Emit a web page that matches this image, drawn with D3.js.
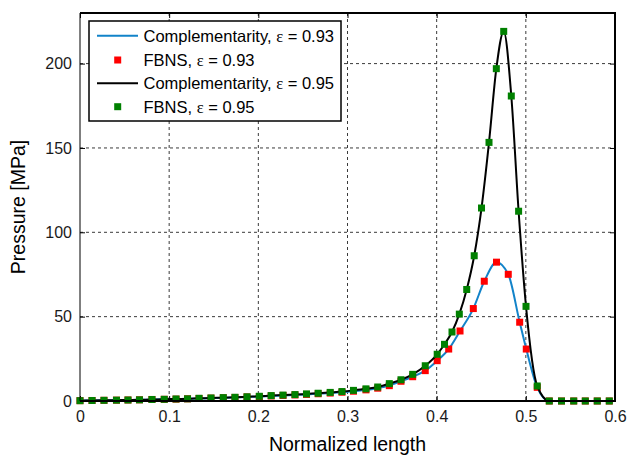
<!DOCTYPE html>
<html>
<head>
<meta charset="utf-8">
<script src="https://cdn.jsdelivr.net/npm/d3@7"></script>
<style>
  html, body { margin: 0; padding: 0; background: #fff; }
  svg { display: block; }
  text { font-family: "Liberation Sans", Arial, Helvetica, sans-serif; }
</style>
</head>
<body>
<svg id="chart" width="627" height="459"></svg>
<script>
// Normalized positions and pressures (MPa) of the FBNS solution, eps = 0.95
const xEps95 = [0, 0.0135, 0.0269, 0.0409, 0.0538, 0.0667, 0.0807, 0.0945, 0.1077, 0.1206,
  0.1335, 0.1469, 0.1607, 0.1738, 0.1873, 0.2011, 0.2144, 0.2277, 0.2411, 0.2540,
  0.2671, 0.2806, 0.2938, 0.3067, 0.3207, 0.3339, 0.3469, 0.3600, 0.3731, 0.3872,
  0.4006, 0.4088, 0.4172, 0.4254, 0.4337, 0.4421, 0.4503, 0.4587, 0.4669, 0.4752,
  0.4837, 0.4919, 0.5002, 0.5128, 0.5263, 0.5400, 0.5537, 0.5667, 0.5801, 0.5936];
const pEps95 = [0.2, 0.3, 0.4, 0.5, 0.6, 0.7, 0.9, 1.0, 1.2, 1.3,
  1.6, 1.8, 2.0, 2.2, 2.5, 2.8, 3.2, 3.5, 3.8, 4.2,
  4.6, 5.1, 5.6, 6.3, 7.2, 8.3, 10.3, 12.6, 15.8, 20.9,
  27.7, 33.6, 40.9, 51.5, 66.1, 86.1, 114.4, 153.3, 197.0, 219.1,
  180.8, 112.5, 56.1, 8.9, 0, 0, 0, 0, 0, 0];

// Same for eps = 0.93
const xEps93 = [0, 0.0135, 0.0269, 0.0409, 0.0538, 0.0667, 0.0807, 0.0945, 0.1077, 0.1206,
  0.1335, 0.1469, 0.1607, 0.1738, 0.1873, 0.2011, 0.2144, 0.2277, 0.2411, 0.2540,
  0.2671, 0.2806, 0.2938, 0.3067, 0.3207, 0.3339, 0.3469, 0.3600, 0.3731, 0.3872,
  0.4006, 0.4135, 0.4262, 0.4411, 0.4534, 0.4671, 0.4803, 0.4931, 0.5005, 0.5128,
  0.5263, 0.5400, 0.5537, 0.5667, 0.5801, 0.5936];
const pEps93 = [0.2, 0.3, 0.4, 0.5, 0.6, 0.7, 0.9, 1.0, 1.1, 1.3,
  1.5, 1.7, 1.9, 2.1, 2.4, 2.6, 3.0, 3.3, 3.6, 3.9,
  4.3, 4.7, 5.2, 5.8, 6.6, 7.6, 9.1, 11.7, 14.4, 18.0,
  23.9, 30.8, 41.5, 54.8, 71.0, 82.3, 75.1, 46.7, 30.8, 8.1,
  0, 0, 0, 0, 0, 0];

const xTicks = [0, 0.1, 0.2, 0.3, 0.4, 0.5, 0.6];
const yTicks = [0, 50, 100, 150, 200];
const legendLabels = ["Complementarity, ", "FBNS, ", "Complementarity, ", "FBNS, "];
const legendEps = ["0.93", "0.93", "0.95", "0.95"];

const colBlue = "#1283c9", colRed = "#ff0000", colBlack = "#000000", colGreen = "#008000";

const svg = d3.select("#chart");
const pLeft = 80, pRight = 615, pTop = 13, pBottom = 401;

const x = d3.scaleLinear().domain([0, 0.6]).range([pLeft, pRight]);
const y = d3.scaleLinear().domain([0, 230]).range([pBottom, pTop]);

// dashed grid
const grid = svg.append("g");
grid.selectAll("line.gx").data(xTicks.slice(1, -1)).join("line")
  .attr("x1", d => x(d)).attr("x2", d => x(d))
  .attr("y1", pTop).attr("y2", pBottom);
grid.append("g").selectAll("line").data(yTicks.slice(1)).join("line")
  .attr("x1", pLeft).attr("x2", pRight)
  .attr("y1", d => y(d)).attr("y2", d => y(d));
grid.selectAll("line")
  .attr("stroke", "#3a3a3a").attr("stroke-width", 1)
  .attr("stroke-dasharray", "3,3");

// axes with inward ticks
const fmtX = d => d === 0 ? "0" : d3.format(".1f")(d);
const axB = svg.append("g").attr("transform", `translate(0,${pBottom})`)
  .call(d3.axisBottom(x).tickValues(xTicks).tickFormat(fmtX).tickSizeInner(-5).tickSizeOuter(0).tickPadding(10));
const axT = svg.append("g").attr("transform", `translate(0,${pTop})`)
  .call(d3.axisTop(x).tickValues(xTicks).tickFormat("").tickSizeInner(-5).tickSizeOuter(0));
const axL = svg.append("g").attr("transform", `translate(${pLeft},0)`)
  .call(d3.axisLeft(y).tickValues(yTicks).tickSizeInner(-5).tickSizeOuter(0).tickPadding(8));
const axR = svg.append("g").attr("transform", `translate(${pRight},0)`)
  .call(d3.axisRight(y).tickValues(yTicks).tickFormat("").tickSizeInner(-5).tickSizeOuter(0));
[axB, axT, axL, axR].forEach(a => {
  a.select(".domain").remove();
  a.selectAll(".tick line").attr("stroke", "#000").attr("stroke-width", 1);
  a.selectAll(".tick text").attr("fill", "#1a1a1a").style("font-size", "16px")
    .style("font-family", "'Liberation Sans', Arial, sans-serif");
});

// curves
const line = d3.line().x(d => x(d[0])).y(d => y(d[1])).curve(d3.curveMonotoneX);
const s93 = xEps93.map((v, i) => [v, pEps93[i]]);
const s95 = xEps95.map((v, i) => [v, pEps95[i]]);
const ms = 7;

svg.append("path").datum(s93).attr("d", line)
  .attr("fill", "none").attr("stroke", colBlue).attr("stroke-width", 2);
svg.append("g").selectAll("rect").data(s93).join("rect")
  .attr("x", d => x(d[0]) - ms / 2).attr("y", d => y(d[1]) - ms / 2)
  .attr("width", ms).attr("height", ms).attr("fill", colRed);
svg.append("path").datum(s95).attr("d", line)
  .attr("fill", "none").attr("stroke", colBlack).attr("stroke-width", 2);
svg.append("g").selectAll("rect").data(s95).join("rect")
  .attr("x", d => x(d[0]) - ms / 2).attr("y", d => y(d[1]) - ms / 2)
  .attr("width", ms).attr("height", ms).attr("fill", colGreen);

// axes box
svg.append("line").attr("x1", pLeft).attr("x2", pLeft).attr("y1", pTop).attr("y2", pBottom)
  .attr("stroke", "#000").attr("stroke-width", 1);
svg.append("line").attr("x1", pRight).attr("x2", pRight).attr("y1", pTop).attr("y2", pBottom)
  .attr("stroke", "#000").attr("stroke-width", 2);
svg.append("line").attr("x1", pLeft).attr("x2", pRight + 1).attr("y1", pTop).attr("y2", pTop)
  .attr("stroke", "#000").attr("stroke-width", 2);
svg.append("line").attr("x1", pLeft).attr("x2", pRight + 1).attr("y1", pBottom).attr("y2", pBottom)
  .attr("stroke", "#000").attr("stroke-width", 2);

// axis titles
svg.append("text").attr("x", (pLeft + pRight) / 2).attr("y", 451)
  .attr("text-anchor", "middle").style("font-size", "19.5px").attr("fill", "#000")
  .text("Normalized length");
svg.append("text").attr("transform", `translate(25,${(pTop + pBottom) / 2}) rotate(-90)`)
  .attr("text-anchor", "middle").style("font-size", "19.5px").attr("fill", "#000")
  .text("Pressure [MPa]");

// legend
const lg = svg.append("g");
lg.append("rect").attr("x", 89).attr("y", 21).attr("width", 252).attr("height", 100)
  .attr("fill", "#fff").attr("stroke", "#000").attr("stroke-width", 1.5);
const rowY = [35.7, 60, 83.3, 106.7];
const kinds = [
  {type: "line", color: colBlue},
  {type: "mark", color: colRed},
  {type: "line", color: colBlack},
  {type: "mark", color: colGreen}
];
kinds.forEach((k, i) => {
  if (k.type === "line") {
    lg.append("line").attr("x1", 97).attr("x2", 138).attr("y1", rowY[i]).attr("y2", rowY[i])
      .attr("stroke", k.color).attr("stroke-width", 2);
  } else {
    lg.append("rect").attr("x", 117.7 - ms / 2).attr("y", rowY[i] - ms / 2)
      .attr("width", ms).attr("height", ms).attr("fill", k.color);
  }
  const t = lg.append("text").attr("x", 143.5).attr("y", rowY[i]).attr("dy", "0.36em")
    .style("font-size", "16.5px").attr("fill", "#000");
  t.append("tspan").text(legendLabels[i]);
  t.append("tspan").style("font-family", "'Liberation Serif', 'DejaVu Serif', serif").text("ε");
  t.append("tspan").text(" = " + legendEps[i]);
});
</script>
</body>
</html>
